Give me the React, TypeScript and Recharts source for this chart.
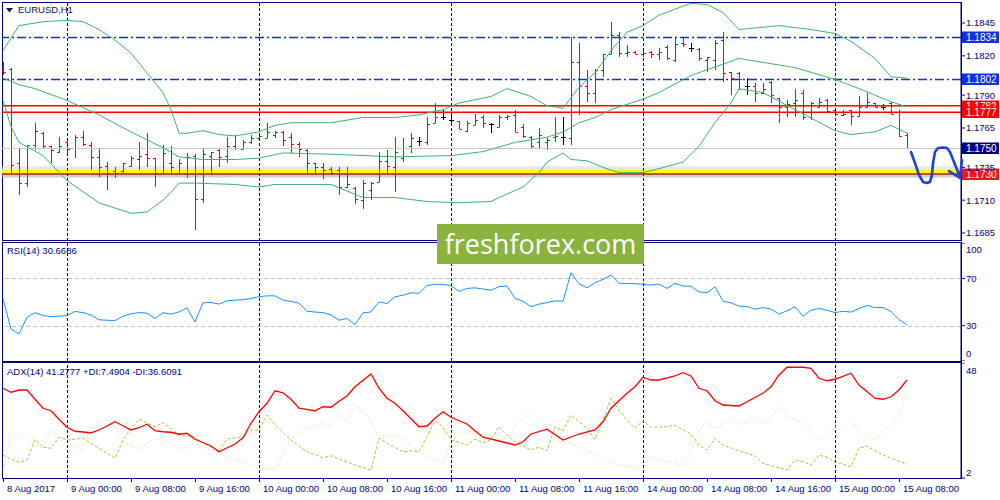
import React from 'react';
import { ComposedChart, Line, Bar, XAxis, YAxis, ReferenceLine, ReferenceArea } from 'recharts';

const FONT = "'Liberation Sans', Arial, sans-serif";
const NAVY = '#000080';
const BLUE = '#1030E0';
const RED = '#FF0000';

// EURUSD H1 bars, first bar 8 Aug 2017 16:00, last 15 Aug 2017 09:00
const opens = [
  1.1809, 1.1810, 1.1738, 1.1723, 1.1752, 1.1761, 1.1751, 1.1747, 1.1754, 1.1750,
  1.1758, 1.1752, 1.1743, 1.1736, 1.1732, 1.1732, 1.1736, 1.1741, 1.1745, 1.1742,
  1.1731, 1.1738, 1.1731, 1.1731, 1.1744, 1.1711, 1.1744, 1.1748, 1.1744, 1.1751,
  1.1749, 1.1754, 1.1757, 1.1757, 1.1760, 1.1762, 1.1758, 1.1753, 1.1748, 1.1738,
  1.1735, 1.1734, 1.1733, 1.1720, 1.1719, 1.1710, 1.1718, 1.1724, 1.1740, 1.1735,
  1.1742, 1.1751, 1.1755, 1.1754, 1.1769, 1.1773, 1.1771, 1.1770, 1.1763, 1.1767,
  1.1773, 1.1768, 1.1766, 1.1773, 1.1775, 1.1766, 1.1758, 1.1754, 1.1754, 1.1758,
  1.1758, 1.1757, 1.1815, 1.1797, 1.1792, 1.1809, 1.1821, 1.1836, 1.1822, 1.1823,
  1.1821, 1.1823, 1.1821, 1.1827, 1.1817, 1.1830, 1.1826, 1.1825, 1.1817, 1.1817,
  1.1832, 1.1808, 1.1807, 1.1797, 1.1797, 1.1792, 1.1800, 1.1788, 1.1781, 1.1784,
  1.1792, 1.1773, 1.1781, 1.1786, 1.1779, 1.1775, 1.1779, 1.1774, 1.1781, 1.1784,
  1.1781, 1.1784, 1.1777, 1.1760,
];
const highs = [
  1.1815, 1.1811, 1.1750, 1.1752, 1.1769, 1.1762, 1.1751, 1.1758, 1.1755, 1.1760,
  1.1763, 1.1754, 1.1750, 1.1739, 1.1735, 1.1738, 1.1744, 1.1754, 1.1761, 1.1742,
  1.1752, 1.1751, 1.1741, 1.1746, 1.1745, 1.1749, 1.1747, 1.1749, 1.1758, 1.1760,
  1.1756, 1.1760, 1.1760, 1.1769, 1.1763, 1.1763, 1.1761, 1.1754, 1.1749, 1.1738,
  1.1738, 1.1735, 1.1735, 1.1735, 1.1720, 1.1725, 1.1724, 1.1747, 1.1748, 1.1758,
  1.1757, 1.1761, 1.1758, 1.1773, 1.1784, 1.1779, 1.1776, 1.1770, 1.1770, 1.1776,
  1.1775, 1.1769, 1.1775, 1.1775, 1.1779, 1.1768, 1.1759, 1.1765, 1.1757, 1.1773,
  1.1773, 1.1834, 1.1830, 1.1809, 1.1810, 1.1821, 1.1846, 1.1838, 1.1828, 1.1824,
  1.1826, 1.1824, 1.1826, 1.1828, 1.1834, 1.1834, 1.1830, 1.1826, 1.1819, 1.1832,
  1.1838, 1.1808, 1.1808, 1.1803, 1.1799, 1.1799, 1.1801, 1.1788, 1.1786, 1.1795,
  1.1794, 1.1785, 1.1788, 1.1787, 1.1780, 1.1779, 1.1779, 1.1789, 1.1792, 1.1784,
  1.1783, 1.1785, 1.1779, 1.1761,
];
const lows = [
  1.1805, 1.1731, 1.1714, 1.1720, 1.1748, 1.1750, 1.1738, 1.1746, 1.1746, 1.1742,
  1.1751, 1.1733, 1.1728, 1.1718, 1.1727, 1.1731, 1.1735, 1.1733, 1.1735, 1.1720,
  1.1731, 1.1731, 1.1731, 1.1727, 1.1687, 1.1708, 1.1729, 1.1735, 1.1738, 1.1748,
  1.1749, 1.1753, 1.1756, 1.1757, 1.1757, 1.1751, 1.1746, 1.1743, 1.1731, 1.1730,
  1.1726, 1.1729, 1.1714, 1.1719, 1.1707, 1.1703, 1.1710, 1.1724, 1.1730, 1.1716,
  1.1739, 1.1746, 1.1751, 1.1752, 1.1769, 1.1771, 1.1767, 1.1764, 1.1762, 1.1767,
  1.1765, 1.1761, 1.1766, 1.1771, 1.1762, 1.1757, 1.1749, 1.1750, 1.1748, 1.1754,
  1.1752, 1.1752, 1.1775, 1.1785, 1.1784, 1.1804, 1.1821, 1.1819, 1.1819, 1.1821,
  1.1819, 1.1818, 1.1817, 1.1817, 1.1815, 1.1827, 1.1823, 1.1816, 1.1808, 1.1809,
  1.1800, 1.1790, 1.1794, 1.1790, 1.1785, 1.1791, 1.1784, 1.1769, 1.1773, 1.1773,
  1.1771, 1.1771, 1.1781, 1.1777, 1.1774, 1.1774, 1.1767, 1.1773, 1.1781, 1.1781,
  1.1779, 1.1776, 1.1758, 1.1749,
];
const closes = [
  1.1808, 1.1737, 1.1723, 1.1752, 1.1763, 1.1751, 1.1748, 1.1751, 1.1749, 1.1758,
  1.1753, 1.1743, 1.1735, 1.1731, 1.1731, 1.1738, 1.1742, 1.1744, 1.1742, 1.1731,
  1.1746, 1.1735, 1.1738, 1.1743, 1.1711, 1.1745, 1.1747, 1.1743, 1.1751, 1.1750,
  1.1754, 1.1757, 1.1759, 1.1762, 1.1762, 1.1756, 1.1753, 1.1749, 1.1738, 1.1735,
  1.1733, 1.1731, 1.1720, 1.1722, 1.1711, 1.1723, 1.1723, 1.1740, 1.1736, 1.1747,
  1.1750, 1.1757, 1.1755, 1.1768, 1.1773, 1.1773, 1.1771, 1.1764, 1.1769, 1.1771,
  1.1769, 1.1768, 1.1773, 1.1774, 1.1762, 1.1759, 1.1751, 1.1760, 1.1756, 1.1759,
  1.1758, 1.1815, 1.1797, 1.1792, 1.1809, 1.1821, 1.1836, 1.1822, 1.1823, 1.1821,
  1.1822, 1.1821, 1.1823, 1.1818, 1.1829, 1.1829, 1.1826, 1.1818, 1.1819, 1.1830,
  1.1807, 1.1803, 1.1802, 1.1797, 1.1792, 1.1795, 1.1790, 1.1781, 1.1783, 1.1786,
  1.1773, 1.1784, 1.1785, 1.1778, 1.1776, 1.1776, 1.1774, 1.1781, 1.1785, 1.1781,
  1.1781, 1.1776, 1.1759, 1.1750,
];

// Bollinger bands (20): [bar index, price]
const bbUpperPts: [number, number][] = [
  [0, 1.1824], [2, 1.1843], [5, 1.1846], [8, 1.1847], [10, 1.1846], [12, 1.1840], [14, 1.1832],
  [16, 1.1822], [18, 1.1807], [20, 1.1792], [21, 1.1779], [22, 1.1761], [23, 1.1761], [25, 1.1763],
  [27, 1.1760], [29, 1.1759], [31, 1.1761], [32, 1.1762], [34, 1.1767], [36, 1.1769], [41, 1.1769],
  [45, 1.1773], [49, 1.1773], [52, 1.1775], [55, 1.1779], [57, 1.1784], [61, 1.1789], [63, 1.1795],
  [66, 1.1789], [68, 1.1782], [70, 1.1780], [72, 1.1796], [74, 1.1807], [76, 1.1824], [78, 1.1838],
  [80, 1.1843], [82, 1.1851], [86, 1.1860], [88, 1.1859], [90, 1.1853], [92, 1.1840], [97, 1.1843],
  [101, 1.1840], [104, 1.1837], [106, 1.1831], [109, 1.1818], [111, 1.1804], [113, 1.1803],
];
const bbMiddlePts: [number, number][] = [
  [0, 1.1803], [2, 1.1798], [4, 1.1795], [8, 1.1786], [12, 1.1775], [16, 1.1762], [18, 1.1756],
  [20, 1.1750], [22, 1.1743], [25, 1.1741], [29, 1.1741], [32, 1.1742], [35, 1.1746], [41, 1.1745],
  [45, 1.1744], [49, 1.1743], [56, 1.1744], [60, 1.1747], [64, 1.1754], [68, 1.1758], [70, 1.1762],
  [72, 1.1769], [74, 1.1773], [76, 1.1779], [78, 1.1783], [80, 1.1787], [82, 1.1792], [86, 1.1805],
  [92, 1.1818], [94, 1.1816], [99, 1.1811], [104, 1.1802], [107, 1.1795], [111, 1.1785], [113, 1.1781],
];
const bbLowerPts: [number, number][] = [
  [0, 1.1786], [1, 1.1766], [2, 1.1754], [5, 1.1744], [8, 1.1725], [12, 1.1708], [16, 1.1700],
  [18, 1.1701], [20, 1.1710], [21, 1.1716], [22, 1.1723], [24, 1.1723], [29, 1.1722], [32, 1.1720],
  [34, 1.1722], [41, 1.1722], [45, 1.1712], [49, 1.1712], [53, 1.1709], [57, 1.1708], [61, 1.1709],
  [62, 1.1712], [65, 1.1720], [67, 1.1731], [68, 1.1739], [70, 1.1746], [71, 1.1741], [73, 1.1740],
  [75, 1.1735], [77, 1.1731], [80, 1.1731], [82, 1.1734], [85, 1.1739], [87, 1.1751], [89, 1.1769],
  [91, 1.1784], [92, 1.1795], [95, 1.1792], [99, 1.1779], [104, 1.1763], [106, 1.1760], [109, 1.1762],
  [111, 1.1767], [113, 1.1761],
];

const rsiValues = [
  53, 27, 23, 37, 41, 38.5, 37.7, 38, 38.5, 42,
  41, 39, 35, 34.5, 34.3, 38, 40, 41, 40.5, 36,
  41, 39.7, 41.6, 45, 33, 49.3, 49.6, 48.2, 51, 51.5,
  52, 53, 54.5, 55.2, 55.2, 51.6, 50.5, 49, 42.2, 41.5,
  41, 39, 34.6, 36, 30.9, 40.8, 41.6, 50, 48.8, 54.4,
  55.8, 57.8, 57.3, 64, 65, 65, 63.8, 59, 61.5, 62,
  61, 60, 63, 63.5, 53, 50.7, 46, 48.2, 49.5, 51,
  50.7, 74.8, 65.5, 62, 66.3, 69.2, 72.8, 65.8, 65.7, 65.5,
  65, 64.3, 65.2, 61.5, 65.8, 63.5, 63.5, 58.5, 58, 62.9,
  50.7, 49.3, 46.5, 46.2, 43.9, 45.3, 44, 39.8, 42.5, 45.9,
  38, 43, 44.5, 43, 41, 42.2, 41.4, 44.5, 47, 45.3,
  45.3, 42, 35, 30.67,
];

const adxPts: [number, number][] = [
  [0, 37.9], [1, 36.3], [2, 37.2], [3, 37.2], [4, 33.5], [5, 29.9], [6, 28.9], [7, 25.5], [8, 22.3],
  [9, 20.7], [11, 20.1], [12, 21.2], [13, 22.8], [14, 24.5], [15, 22.9], [16, 21.2], [17, 22.1],
  [18, 23.5], [19, 20.9], [20, 20.5], [21, 20.3], [22, 19.5], [23, 19.9], [24, 17.5], [26, 14.8],
  [27, 12.5], [29, 15.6], [30, 18.1], [31, 23.9], [32, 28.5], [33, 31.9], [34, 36.9], [35, 36.1],
  [36, 33.5], [37, 29.9], [39, 28.9], [40, 30.5], [41, 30.3], [42, 32.7], [43, 34.8], [44, 38.5],
  [46, 43.6], [47, 37.9], [48, 33.9], [49, 31.9], [50, 28.9], [52, 22.5], [53, 22.8], [54, 25.9],
  [55, 28.5], [56, 26.3], [58, 23.6], [59, 20.9], [60, 18.3], [62, 16.8], [64, 15.2], [65, 16.5],
  [66, 19.6], [68, 21.5], [70, 17.2], [72, 19.6], [74, 21.2], [75, 24.5], [76, 29.9], [78, 35.9],
  [79, 38.5], [80, 42.3], [81, 41.2], [82, 41.2], [84, 42.8], [85, 44.1], [86, 42.8], [87, 37.9],
  [88, 36.9], [89, 32.9], [90, 31.2], [92, 30.8], [93, 32.5], [95, 35.9], [96, 38.5], [97, 43.2],
  [98, 46.3], [100, 46.3], [101, 45.9], [102, 41.9], [103, 40.9], [104, 41.5], [106, 43.9],
  [107, 39.2], [109, 33.9], [110, 33.5], [111, 34.5], [112, 37.2], [113, 41.28],
];
const plusDiPts: [number, number][] = [
  [0, 11.2], [1, 9.5], [2, 8.3], [3, 9.2], [4, 17.5], [5, 14.3], [6, 13.9], [7, 18.3], [8, 17.2],
  [10, 17.9], [11, 15.9], [12, 13.9], [14, 9.9], [15, 17.2], [16, 21.9], [17, 25.5], [19, 22.5],
  [20, 24.1], [21, 21.9], [22, 19.2], [24, 18.3], [25, 16.1], [27, 12.9], [28, 17.6], [30, 18.5],
  [31, 21.2], [32, 21.2], [33, 27.2], [34, 23.2], [36, 17.2], [38, 12.5], [40, 10.1], [41, 10.9],
  [44, 7.2], [46, 5.2], [47, 17.9], [48, 15.9], [50, 12.5], [51, 12.9], [52, 12.5], [54, 24.8],
  [55, 22.5], [56, 17.2], [58, 15.2], [59, 17.5], [60, 16.1], [61, 17.2], [62, 22.6], [63, 19.2],
  [64, 16.5], [66, 13.2], [67, 14.3], [68, 12.9], [69, 22.5], [70, 20.9], [71, 27.2], [72, 24.5],
  [73, 21.9], [74, 17.5], [75, 25.2], [76, 33.9], [77, 29.2], [78, 25.2], [79, 21.9], [80, 24.9],
  [81, 22.3], [83, 22.5], [84, 23.1], [86, 19.6], [87, 15.2], [88, 13.2], [89, 17.9], [90, 15.2],
  [92, 12.9], [94, 10.8], [95, 7.9], [97, 6.1], [98, 5.2], [99, 9.2], [100, 8.5], [101, 7.2],
  [102, 11.2], [103, 10.3], [104, 8.5], [106, 6.5], [107, 13.9], [108, 14.8], [110, 11.2],
  [111, 9.9], [113, 7.49],
];
const minusDiPts: [number, number][] = [
  [0, 5.2], [1, 18.3], [2, 19.9], [3, 17.2], [5, 13.9], [6, 21.9], [7, 17.2], [9, 14.5], [10, 13.5],
  [11, 21.9], [13, 25.2], [14, 22.5], [15, 16.5], [17, 13.5], [19, 17.9], [21, 15.9], [22, 12.5],
  [24, 16.5], [25, 14.3], [27, 12.1], [29, 9.2], [32, 5.9], [34, 5.2], [35, 12.5], [36, 17.9],
  [38, 21.9], [40, 23.9], [41, 22.5], [42, 27.2], [43, 24.5], [44, 31.2], [46, 25.2], [47, 17.9],
  [49, 19.2], [50, 17.9], [52, 12.5], [54, 9.2], [55, 8.1], [56, 16.5], [57, 19.6], [59, 20.8],
  [60, 16.9], [61, 18.5], [62, 17.5], [63, 15.9], [64, 22.5], [66, 28.9], [67, 25.2], [68, 24.1],
  [70, 17.2], [72, 14.3], [74, 11.6], [76, 7.9], [78, 6.8], [80, 5.5], [81, 10.8], [82, 9.2],
  [84, 7.9], [85, 6.3], [86, 12.9], [87, 20.9], [88, 25.2], [89, 21.9], [91, 25.5], [92, 23.2],
  [94, 26.3], [95, 23.5], [96, 25.5], [97, 31.2], [98, 26.8], [100, 23.9], [101, 19.9], [102, 17.2],
  [103, 19.2], [104, 22.5], [105, 21.9], [106, 25.9], [107, 20.5], [109, 16.9], [110, 21.2],
  [111, 23.2], [112, 27.2], [113, 36.61],
];

// hand-drawn forecast arrow: [bar index, price]
const arrowPts: [number, number][] = [
  [113.5, 1.17467], [114.0, 1.17383], [114.5, 1.17292], [115.0, 1.17239], [115.5, 1.17231],
  [115.875, 1.17239], [116.125, 1.17292], [116.25, 1.17383], [116.5, 1.17467], [116.875, 1.17498],
  [117.5, 1.17501], [118.0, 1.17498], [118.375, 1.17467], [118.875, 1.17391], [119.375, 1.17315],
  [119.625, 1.17269], [118.25, 1.17322], [119.625, 1.17269], [119.875, 1.17406],
];

const timeTickIdx = [0, 8, 16, 24, 32, 40, 48, 56, 64, 72, 80, 88, 96, 104, 112];
const timeTickLabels = [
  '8 Aug 2017', '9 Aug 00:00', '9 Aug 08:00', '9 Aug 16:00', '10 Aug 00:00', '10 Aug 08:00',
  '10 Aug 16:00', '11 Aug 00:00', '11 Aug 08:00', '11 Aug 16:00', '14 Aug 00:00', '14 Aug 08:00',
  '14 Aug 16:00', '15 Aug 00:00', '15 Aug 08:00',
];
const dayBreaks = [8, 32, 56, 80, 104];
const priceTicks = [1.1845, 1.182, 1.179, 1.1765, 1.1735, 1.171, 1.1685];
const rsiTicks = [0, 30, 70, 100];
const adxTicks = [2, 48];

const X_DOMAIN: [number, number] = [-0.125, 119.75];
const X_DOMAIN_WIDE: [number, number] = [-0.125, 120.875];
const PRICE_DOMAIN: [number, number] = [1.16789, 1.1861];

const N = opens.length;
const sparse = (pts: [number, number][]) => {
  const a: (number | null)[] = new Array(N).fill(null);
  pts.forEach(([k, v]) => { a[k] = v; });
  return a;
};
const bbU = sparse(bbUpperPts);
const bbM = sparse(bbMiddlePts);
const bbL = sparse(bbLowerPts);
const adx = sparse(adxPts);
const pdi = sparse(plusDiPts);
const mdi = sparse(minusDiPts);

const mainData = opens.map((o, k) => ({
  i: k, o, h: highs[k], l: lows[k], c: closes[k], bbU: bbU[k], bbM: bbM[k], bbL: bbL[k],
}));
const rsiData = rsiValues.map((v, k) => ({ i: k, rsi: v }));
const adxData = opens.map((_, k) => ({ i: k, adx: adx[k], pdi: pdi[k], mdi: mdi[k] }));
const arrowData = arrowPts.map(([i, p]) => ({ i, p }));

const OhlcShape = (props: any) => {
  const { x, y, width, height, payload } = props;
  if (x == null || y == null || !payload) return null;
  const { o, h, l, c } = payload;
  const top = Math.min(y, y + height);
  const span = Math.abs(height);
  const py = (v: number) => (h === l ? top : top + ((h - v) / (h - l)) * span);
  const cx = Math.round(x + width / 2 + 0.5) + 0.5;
  const color = c > o ? '#008000' : c < o ? '#FF0000' : '#000000';
  const yo = Math.round(py(o)) + 0.5;
  const yc = Math.round(py(c)) + 0.5;
  return (
    <g>
      <line x1={cx} x2={cx} y1={Math.round(top)} y2={Math.round(top + Math.max(span, 1))} stroke={color} strokeWidth={1} />
      <line x1={cx - 2.5} x2={cx} y1={yo} y2={yo} stroke={color} strokeWidth={1} />
      <line x1={cx} x2={cx + 2.5} y1={yc} y2={yc} stroke={color} strokeWidth={1} />
    </g>
  );
};

const CrispLine = (props: any) => {
  const { x1, y1, x2, y2, stroke, strokeWidth, strokeDasharray } = props;
  if ([x1, y1, x2, y2].some((v) => v == null || Number.isNaN(v))) return null;
  const vertical = Math.abs(x1 - x2) < 0.01;
  const ax1 = vertical ? Math.round(x1) + 0.5 : x1;
  const ax2 = vertical ? Math.round(x2) + 0.5 : x2;
  const ay1 = vertical ? y1 : Math.round(y1) + 0.5;
  const ay2 = vertical ? y2 : Math.round(y2) + 0.5;
  return <line x1={ax1} y1={ay1} x2={ax2} y2={ay2} stroke={stroke} strokeWidth={strokeWidth} strokeDasharray={strokeDasharray} />;
};

const PriceTag = (props: any) => {
  const { viewBox, text, bg } = props;
  if (!viewBox) return null;
  const x = viewBox.x + viewBox.width;
  const y = Math.round(viewBox.y);
  return (
    <g>
      <rect x={x + 1} y={y - 5.5} width={37} height={11.5} fill={bg} />
      <text x={x + 5} y={y + 4} fill="#FFFFFF" fontSize={10} fontFamily={FONT}>{text}</text>
    </g>
  );
};

const PriceTick = (props: any) => {
  const { x, y, payload } = props;
  return (
    <text x={x} y={y} dy={3.5} fill={NAVY} fontSize={9.5} fontFamily={FONT}>
      {Number(payload.value).toFixed(4)}
    </text>
  );
};

const makeOffsetTick = (offsets: Record<string, number>) => (props: any) => {
  const { x, y, payload } = props;
  const off = offsets[String(payload.value)] ?? 0;
  return (
    <text x={x} y={y + off} dy={3.5} fill={NAVY} fontSize={9.5} fontFamily={FONT}>
      {payload.value}
    </text>
  );
};
const RsiTick = makeOffsetTick({ '100': 6, '0': -8 });
const AdxTick = makeOffsetTick({ '48': 7, '2': -6 });

const TimeTick = (props: any) => {
  const { x, y, payload } = props;
  const idx = timeTickIdx.indexOf(payload.value);
  const px = Math.round(x) + 0.5;
  return (
    <g>
      <line x1={px} x2={px} y1={y} y2={y + 4} stroke={NAVY} strokeWidth={1} />
      <text x={x + 4} y={y + 14} fill={NAVY} fontSize={9.5} fontFamily={FONT}>{timeTickLabels[idx]}</text>
    </g>
  );
};

const dayLines = (keyPrefix: string) =>
  dayBreaks.map((d) => (
    <ReferenceLine key={`${keyPrefix}-${d}`} x={d} stroke={NAVY} strokeWidth={1} strokeDasharray="3 2" shape={<CrispLine />} />
  ));

const MainChart = () => (
  <ComposedChart width={1000} height={243} data={mainData} margin={{ top: 2, right: 0, bottom: 2, left: 2 }}>
    <XAxis dataKey="i" type="number" domain={X_DOMAIN} allowDataOverflow hide />
    <YAxis
      orientation="right" width={39} type="number" domain={PRICE_DOMAIN} allowDataOverflow
      ticks={priceTicks} interval={0} tick={<PriceTick />} tickSize={4} tickMargin={1}
      axisLine={{ stroke: NAVY }} tickLine={{ stroke: NAVY }}
    />
    {dayLines('m')}
    <ReferenceArea y1={1.17336} y2={1.17358} fill="#D8D8D8" fillOpacity={0.6} stroke="none" />
    <ReferenceArea y1={1.1730} y2={1.17336} fill="#FFFF00" fillOpacity={1} stroke="none" />
    <ReferenceArea y1={1.17272} y2={1.1730} fill="#A8A8A8" fillOpacity={0.55} stroke="none" />
    <ReferenceLine y={1.1750} stroke="#C8C8C8" strokeWidth={1} shape={<CrispLine />} label={<PriceTag text="1.1750" bg={NAVY} />} />
    <ReferenceLine y={1.1834} stroke={BLUE} strokeWidth={1.5} strokeDasharray="9 3 2 3" label={<PriceTag text="1.1834" bg={BLUE} />} />
    <ReferenceLine y={1.1802} stroke={BLUE} strokeWidth={1.5} strokeDasharray="9 3 2 3" label={<PriceTag text="1.1802" bg={BLUE} />} />
    <ReferenceLine y={1.1782} stroke={RED} strokeWidth={1.5} label={<PriceTag text="1.1782" bg={RED} />} />
    <ReferenceLine y={1.1777} stroke={RED} strokeWidth={1.5} label={<PriceTag text="1.1777" bg={RED} />} />
    <ReferenceLine y={1.1730} stroke="#B01E1E" strokeWidth={1.5} label={<PriceTag text="1.1730" bg="#F01414" />} />
    <Line dataKey="bbU" type="linear" stroke="#3CB371" strokeWidth={1} dot={false} connectNulls isAnimationActive={false} />
    <Line dataKey="bbM" type="linear" stroke="#3CB371" strokeWidth={1} dot={false} connectNulls isAnimationActive={false} />
    <Line dataKey="bbL" type="linear" stroke="#3CB371" strokeWidth={1} dot={false} connectNulls isAnimationActive={false} />
    <Bar dataKey={(d: any) => [d.l, d.h]} barSize={5} shape={(p: any) => <OhlcShape {...p} />} isAnimationActive={false} />
  </ComposedChart>
);

const ArrowOverlay = () => (
  <ComposedChart width={1000} height={243} data={arrowData} margin={{ top: 2, right: 30, bottom: 2, left: 2 }}>
    <XAxis dataKey="i" type="number" domain={X_DOMAIN_WIDE} allowDataOverflow hide />
    <YAxis type="number" domain={PRICE_DOMAIN} allowDataOverflow hide />
    <Line dataKey="p" type="linear" stroke="#1F3FD6" strokeWidth={2.6} strokeLinejoin="round" strokeLinecap="round" dot={false} isAnimationActive={false} />
  </ComposedChart>
);

const RsiChart = () => (
  <ComposedChart width={1000} height={118} data={rsiData} margin={{ top: 0, right: 0, bottom: 0, left: 2 }}>
    <XAxis dataKey="i" type="number" domain={X_DOMAIN} allowDataOverflow hide />
    <YAxis
      orientation="right" width={39} type="number" domain={[0, 100]} allowDataOverflow
      ticks={rsiTicks} interval={0} tick={<RsiTick />} tickSize={4} tickMargin={1}
      axisLine={{ stroke: NAVY }} tickLine={{ stroke: NAVY }}
    />
    {dayLines('r')}
    <ReferenceLine y={70} stroke="#C0C0C0" strokeDasharray="4 3" shape={<CrispLine />} />
    <ReferenceLine y={30} stroke="#C0C0C0" strokeDasharray="4 3" shape={<CrispLine />} />
    <Line dataKey="rsi" type="linear" stroke="#1E90FF" strokeWidth={1} dot={false} isAnimationActive={false} />
  </ComposedChart>
);

const AdxChart = () => (
  <ComposedChart width={1000} height={137} data={adxData} margin={{ top: 0, right: 0, bottom: 0, left: 2 }}>
    <XAxis
      dataKey="i" type="number" domain={X_DOMAIN} allowDataOverflow height={22}
      ticks={timeTickIdx} interval={0} tick={<TimeTick />} tickSize={0} tickMargin={0}
      axisLine={false} tickLine={false}
    />
    <YAxis
      orientation="right" width={39} type="number" domain={[2, 48]} allowDataOverflow
      ticks={adxTicks} interval={0} tick={<AdxTick />} tickSize={4} tickMargin={1}
      axisLine={{ stroke: NAVY }} tickLine={{ stroke: NAVY }}
    />
    {dayLines('a')}
    <Line dataKey="mdi" type="linear" stroke="#F5DEB3" strokeWidth={1} strokeDasharray="2 2" dot={false} connectNulls isAnimationActive={false} />
    <Line dataKey="pdi" type="linear" stroke="#9ACD32" strokeWidth={1} strokeDasharray="3 2" dot={false} connectNulls isAnimationActive={false} />
    <Line dataKey="adx" type="linear" stroke="#FF0000" strokeWidth={1.3} dot={false} connectNulls isAnimationActive={false} />
  </ComposedChart>
);

const frameStyle = (top: number, height: number): React.CSSProperties => ({
  position: 'absolute', left: 2, top, width: 960, height, border: `1px solid ${NAVY}`, boxSizing: 'border-box',
});

const abs = (top: number): React.CSSProperties => ({ position: 'absolute', left: 0, top });

export default function App() {
  return (
    <div style={{ position: 'absolute', left: 0, top: 0, width: 1000, height: 500, background: '#FFFFFF', overflow: 'hidden', fontFamily: FONT }}>
      <div style={frameStyle(2, 239)} />
      <div style={frameStyle(242, 120)} />
      <div style={frameStyle(362, 117)} />
      <div style={abs(0)}><MainChart /></div>
      <div style={abs(0)}><ArrowOverlay /></div>
      <div style={abs(243)}><RsiChart /></div>
      <div style={abs(363)}><AdxChart /></div>
      <svg style={{ position: 'absolute', left: 6, top: 8 }} width={8} height={6}>
        <polygon points="0,0 7,0 3.5,4.5" fill="#1A1A40" />
      </svg>
      <div style={{ position: 'absolute', left: 18, top: 4, fontSize: 9.5, color: '#101060', lineHeight: '12px' }}>EURUSD,H1</div>
      <div style={{ position: 'absolute', left: 7, top: 245, fontSize: 9.5, color: NAVY, lineHeight: '12px' }}>RSI(14) 30.6686</div>
      <div style={{ position: 'absolute', left: 7, top: 366, fontSize: 9.5, color: NAVY, lineHeight: '12px' }}>ADX(14) 41.2777 +DI:7.4904 -DI:36.6091</div>
      <div
        style={{
          position: 'absolute', left: 437, top: 224, width: 207, height: 40, background: '#8BB43F', color: '#FFFFFF',
          fontFamily: "'Open Sans', 'Liberation Sans', sans-serif", fontSize: 27, lineHeight: '40px', textAlign: 'center',
        }}
      >
        freshforex.com
      </div>
    </div>
  );
}
